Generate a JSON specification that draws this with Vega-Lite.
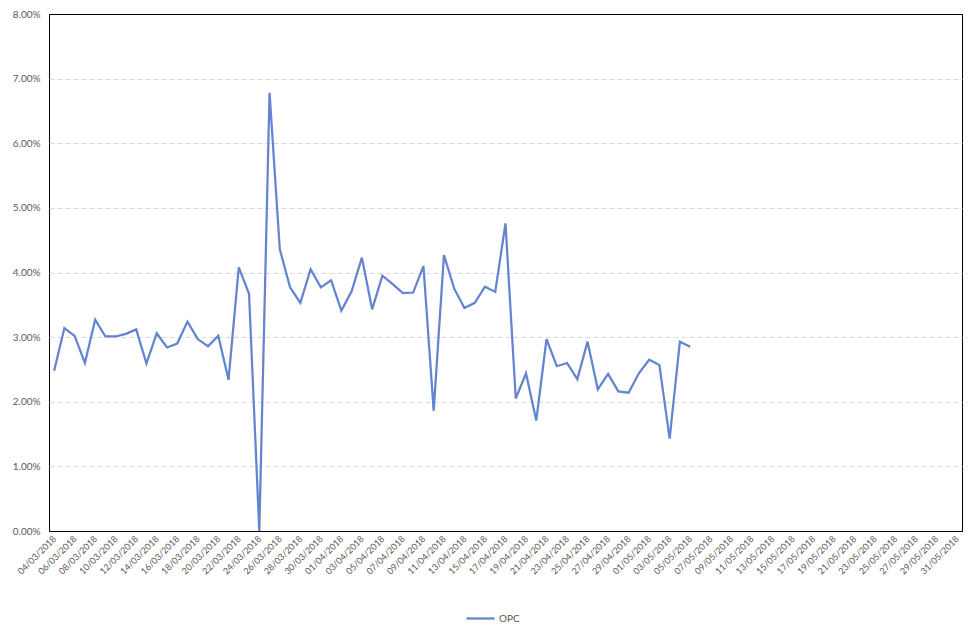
{
  "$schema": "https://vega.github.io/schema/vega-lite/v6.json",
  "width": 913,
  "height": 517,
  "autosize": "none",
  "padding": {"left": 49, "top": 14, "right": 15, "bottom": 107},
  "background": "white",
  "config": {"view": {"stroke": "#000000", "strokeWidth": 1}, "font": "Lato"},
  "data": {"values": [
    {"date": "2018-03-04", "value": 0.0248},
    {"date": "2018-03-05", "value": 0.0314},
    {"date": "2018-03-06", "value": 0.0302},
    {"date": "2018-03-07", "value": 0.0260},
    {"date": "2018-03-08", "value": 0.0327},
    {"date": "2018-03-09", "value": 0.0301},
    {"date": "2018-03-10", "value": 0.0301},
    {"date": "2018-03-11", "value": 0.0305},
    {"date": "2018-03-12", "value": 0.0312},
    {"date": "2018-03-13", "value": 0.0259},
    {"date": "2018-03-14", "value": 0.0306},
    {"date": "2018-03-15", "value": 0.0284},
    {"date": "2018-03-16", "value": 0.0290},
    {"date": "2018-03-17", "value": 0.0324},
    {"date": "2018-03-18", "value": 0.0297},
    {"date": "2018-03-19", "value": 0.0286},
    {"date": "2018-03-20", "value": 0.0302},
    {"date": "2018-03-21", "value": 0.0234},
    {"date": "2018-03-22", "value": 0.0408},
    {"date": "2018-03-23", "value": 0.0367},
    {"date": "2018-03-24", "value": 0.0000},
    {"date": "2018-03-25", "value": 0.0678},
    {"date": "2018-03-26", "value": 0.0436},
    {"date": "2018-03-27", "value": 0.0377},
    {"date": "2018-03-28", "value": 0.0353},
    {"date": "2018-03-29", "value": 0.0405},
    {"date": "2018-03-30", "value": 0.0377},
    {"date": "2018-03-31", "value": 0.0388},
    {"date": "2018-04-01", "value": 0.0341},
    {"date": "2018-04-02", "value": 0.0371},
    {"date": "2018-04-03", "value": 0.0423},
    {"date": "2018-04-04", "value": 0.0343},
    {"date": "2018-04-05", "value": 0.0395},
    {"date": "2018-04-06", "value": 0.0382},
    {"date": "2018-04-07", "value": 0.0368},
    {"date": "2018-04-08", "value": 0.0369},
    {"date": "2018-04-09", "value": 0.0410},
    {"date": "2018-04-10", "value": 0.0186},
    {"date": "2018-04-11", "value": 0.0427},
    {"date": "2018-04-12", "value": 0.0375},
    {"date": "2018-04-13", "value": 0.0345},
    {"date": "2018-04-14", "value": 0.0353},
    {"date": "2018-04-15", "value": 0.0378},
    {"date": "2018-04-16", "value": 0.0370},
    {"date": "2018-04-17", "value": 0.0476},
    {"date": "2018-04-18", "value": 0.0205},
    {"date": "2018-04-19", "value": 0.0244},
    {"date": "2018-04-20", "value": 0.0171},
    {"date": "2018-04-21", "value": 0.0297},
    {"date": "2018-04-22", "value": 0.0255},
    {"date": "2018-04-23", "value": 0.0260},
    {"date": "2018-04-24", "value": 0.0235},
    {"date": "2018-04-25", "value": 0.0293},
    {"date": "2018-04-26", "value": 0.0219},
    {"date": "2018-04-27", "value": 0.0243},
    {"date": "2018-04-28", "value": 0.0216},
    {"date": "2018-04-29", "value": 0.0214},
    {"date": "2018-04-30", "value": 0.0244},
    {"date": "2018-05-01", "value": 0.0265},
    {"date": "2018-05-02", "value": 0.0257},
    {"date": "2018-05-03", "value": 0.0143},
    {"date": "2018-05-04", "value": 0.0293},
    {"date": "2018-05-05", "value": 0.0285}
  ]},
  "mark": {"type": "line", "strokeWidth": 2.25},
  "encoding": {
    "x": {
      "field": "date",
      "type": "temporal",
      "scale": {
        "type": "utc",
        "nice": false,
        "domain": [
          {"year": 2018, "month": 3, "date": 3, "hours": 12, "utc": true},
          {"year": 2018, "month": 5, "date": 31, "hours": 12, "utc": true}
        ]
      },
      "axis": {
        "title": null,
        "domain": false,
        "ticks": false,
        "grid": false,
        "tickCount": {"interval": "day", "step": 1},
        "labelExpr": "round((datum.value - utc(2018, 2, 4)) / 86400000) % 2 == 0 ? utcFormat(datum.value, '%d/%m/%Y') : ''",
        "labelAngle": -45,
        "labelAlign": "right",
        "labelBaseline": "middle",
        "labelFontSize": 9,
        "labelColor": "#595959",
        "labelPadding": 6,
        "labelOverlap": false,
        "labelBound": false,
        "labelFlush": false
      }
    },
    "y": {
      "field": "value",
      "type": "quantitative",
      "scale": {"domain": [0, 0.08], "nice": false},
      "axis": {
        "title": null,
        "domain": false,
        "ticks": false,
        "values": [0, 0.01, 0.02, 0.03, 0.04, 0.05, 0.06, 0.07, 0.08],
        "format": ".2%",
        "grid": true,
        "gridColor": {"condition": {"test": "datum.value < 0.001 || datum.value > 0.079", "value": "#000000"}, "value": "#d9d9d9"},
        "gridDash": {"condition": {"test": "datum.value < 0.001 || datum.value > 0.079", "value": []}, "value": [5, 3]},
        "gridWidth": 1,
        "labelColor": "#595959",
        "labelFontSize": 10,
        "labelPadding": 9
      }
    },
    "color": {
      "datum": "OPC",
      "scale": {"range": ["#6384CE"]},
      "legend": {
        "orient": "none",
        "legendX": 416,
        "legendY": 589,
        "direction": "horizontal",
        "title": null,
        "padding": 0,
        "symbolType": "stroke",
        "symbolSize": 784,
        "symbolStrokeWidth": 2.25,
        "labelFontSize": 10,
        "labelColor": "#595959",
        "labelOffset": 3
      }
    }
  }
}
